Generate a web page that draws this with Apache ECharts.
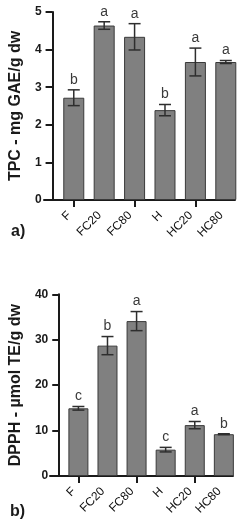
<!DOCTYPE html>
<html>
<head>
<meta charset="utf-8">
<script src="https://cdn.jsdelivr.net/npm/echarts@6/dist/echarts.min.js"></script>
<style>
html,body{margin:0;padding:0;background:#fff;}
#c{width:250px;height:522px;}
</style>
</head>
<body>
<div id="c"></div>
<script>
// ---- data ----
const categories = ['F', 'FC20', 'FC80', 'H', 'HC20', 'HC80'];
const tpcMean = [2.72, 4.64, 4.34, 2.39, 3.67, 3.67];
const tpcSd = [0.21, 0.10, 0.35, 0.15, 0.37, 0.04];
const tpcLetters = ['b', 'a', 'a', 'b', 'a', 'a'];
const dpphMean = [14.9, 28.7, 34.1, 5.8, 11.2, 9.2];
const dpphSd = [0.4, 2.0, 2.1, 0.5, 0.8, 0.1];
const dpphLetters = ['c', 'b', 'a', 'c', 'a', 'b'];
const tpcTicks = [0, 5, 1];   // min, max, interval
const dpphTicks = [0, 40, 10];

const FONT = 'Liberation Sans, Arial, sans-serif';
const AX = '#1a1a1a';

function errData(mean, sd) {
  return mean.map((m, i) => [i, m - sd[i], m + sd[i]]);
}
function errRender(letters) {
  return function (params, api) {
    const i = api.value(0);
    const top = api.coord([i, api.value(2)]);
    const bot = api.coord([i, api.value(1)]);
    const hw = 6;
    const st = { stroke: '#2e2e2e', lineWidth: 1.5 };
    return {
      type: 'group',
      children: [
        { type: 'line', shape: { x1: top[0], y1: top[1], x2: bot[0], y2: bot[1] }, style: st },
        { type: 'line', shape: { x1: top[0] - hw, y1: top[1], x2: top[0] + hw, y2: top[1] }, style: st },
        { type: 'line', shape: { x1: bot[0] - hw, y1: bot[1], x2: bot[0] + hw, y2: bot[1] }, style: st },
        { type: 'text', style: { text: letters[i], x: top[0], y: top[1] - 3, textAlign: 'center', textVerticalAlign: 'bottom', fill: '#3a3a3a', font: '14px ' + FONT } }
      ]
    };
  };
}

const chart = echarts.init(document.getElementById('c'), null, { renderer: 'canvas' });

const catAxis = (gi) => ({
  type: 'category', gridIndex: gi, data: categories,
  axisLine: { show: false },
  axisTick: { show: true, alignWithLabel: true, length: 7, lineStyle: { color: AX, width: 2 } },
  axisLabel: { show: false }
});
const lineAxis = (gi) => ({
  type: 'value', gridIndex: gi, min: 0, max: 1, interval: 1,
  axisLine: { show: true, onZero: false, lineStyle: { color: AX, width: 2 } },
  axisTick: { show: false }, axisLabel: { show: false }, splitLine: { show: false }
});
const hiddenY = (gi) => ({
  type: 'value', gridIndex: gi, min: 0, max: 1, show: false
});
const valAxis = (gi, t, name, offset, gap) => ({
  type: 'value', gridIndex: gi, min: t[0], max: t[1], interval: t[2], offset: offset,
  name: name, nameLocation: 'middle', nameGap: gap,
  nameTextStyle: { fontSize: 16, fontWeight: 'bold', color: '#1a1a1a', fontFamily: FONT },
  axisLine: { show: true, lineStyle: { color: AX, width: 2 } },
  axisTick: { show: true, length: 7, lineStyle: { color: AX, width: 2 } },
  axisLabel: { margin: 11, fontSize: 12, fontWeight: 'bold', color: '#1a1a1a', fontFamily: FONT },
  splitLine: { show: false }
});

chart.setOption({
  animation: false,
  backgroundColor: '#fff',
  grid: [
    { left: 50, right: 9, top: 12, height: 188 },
    { left: 44, width: 191, top: 12, height: 188 },
    { left: 54.6, right: 11.6, top: 294.3, height: 181.7 },
    { left: 50, width: 183, top: 294.3, height: 181.7 }
  ],
  xAxis: [catAxis(0), lineAxis(1), catAxis(2), lineAxis(3)],
  yAxis: [
    valAxis(0, tpcTicks, 'TPC - mg GAE/g dw', 6, 25),
    hiddenY(1),
    valAxis(2, dpphTicks, 'DPPH - µmol TE/g dw', 4.6, 30),
    hiddenY(3)
  ],
  series: [
    { type: 'bar', xAxisIndex: 0, yAxisIndex: 0, data: tpcMean, barWidth: 21,
      itemStyle: { color: '#808080', borderColor: '#3a3a3a', borderWidth: 1 } },
    { type: 'custom', xAxisIndex: 0, yAxisIndex: 0, data: errData(tpcMean, tpcSd), renderItem: errRender(tpcLetters), z: 5 },
    { type: 'bar', xAxisIndex: 2, yAxisIndex: 2, data: dpphMean, barWidth: 20,
      itemStyle: { color: '#808080', borderColor: '#3a3a3a', borderWidth: 1 } },
    { type: 'custom', xAxisIndex: 2, yAxisIndex: 2, data: errData(dpphMean, dpphSd), renderItem: errRender(dpphLetters), z: 5 }
  ]
});

// rotated category labels placed at each category's tick via the library's own scales
const graphics = [
  { type: 'text', left: 11, top: 224, style: { text: 'a)', font: 'bold 16px ' + FONT, fill: '#1a1a1a' } },
  { type: 'text', left: 10, top: 504, style: { text: 'b)', font: 'bold 16px ' + FONT, fill: '#1a1a1a' } }
];
[[0, tpcTicks[0]], [2, dpphTicks[0]]].forEach(([gi, ymin]) => {
  categories.forEach((c, i) => {
    const p = chart.convertToPixel({ gridIndex: gi }, [i, ymin]);
    graphics.push({
      type: 'text', x: p[0] - 4.5, y: p[1] + 13.5, rotation: Math.PI / 4,
      style: { text: c, align: 'right', verticalAlign: 'middle', fill: '#111', font: '12px ' + FONT }
    });
  });
});
chart.setOption({ graphic: graphics });
</script>
</body>
</html>
